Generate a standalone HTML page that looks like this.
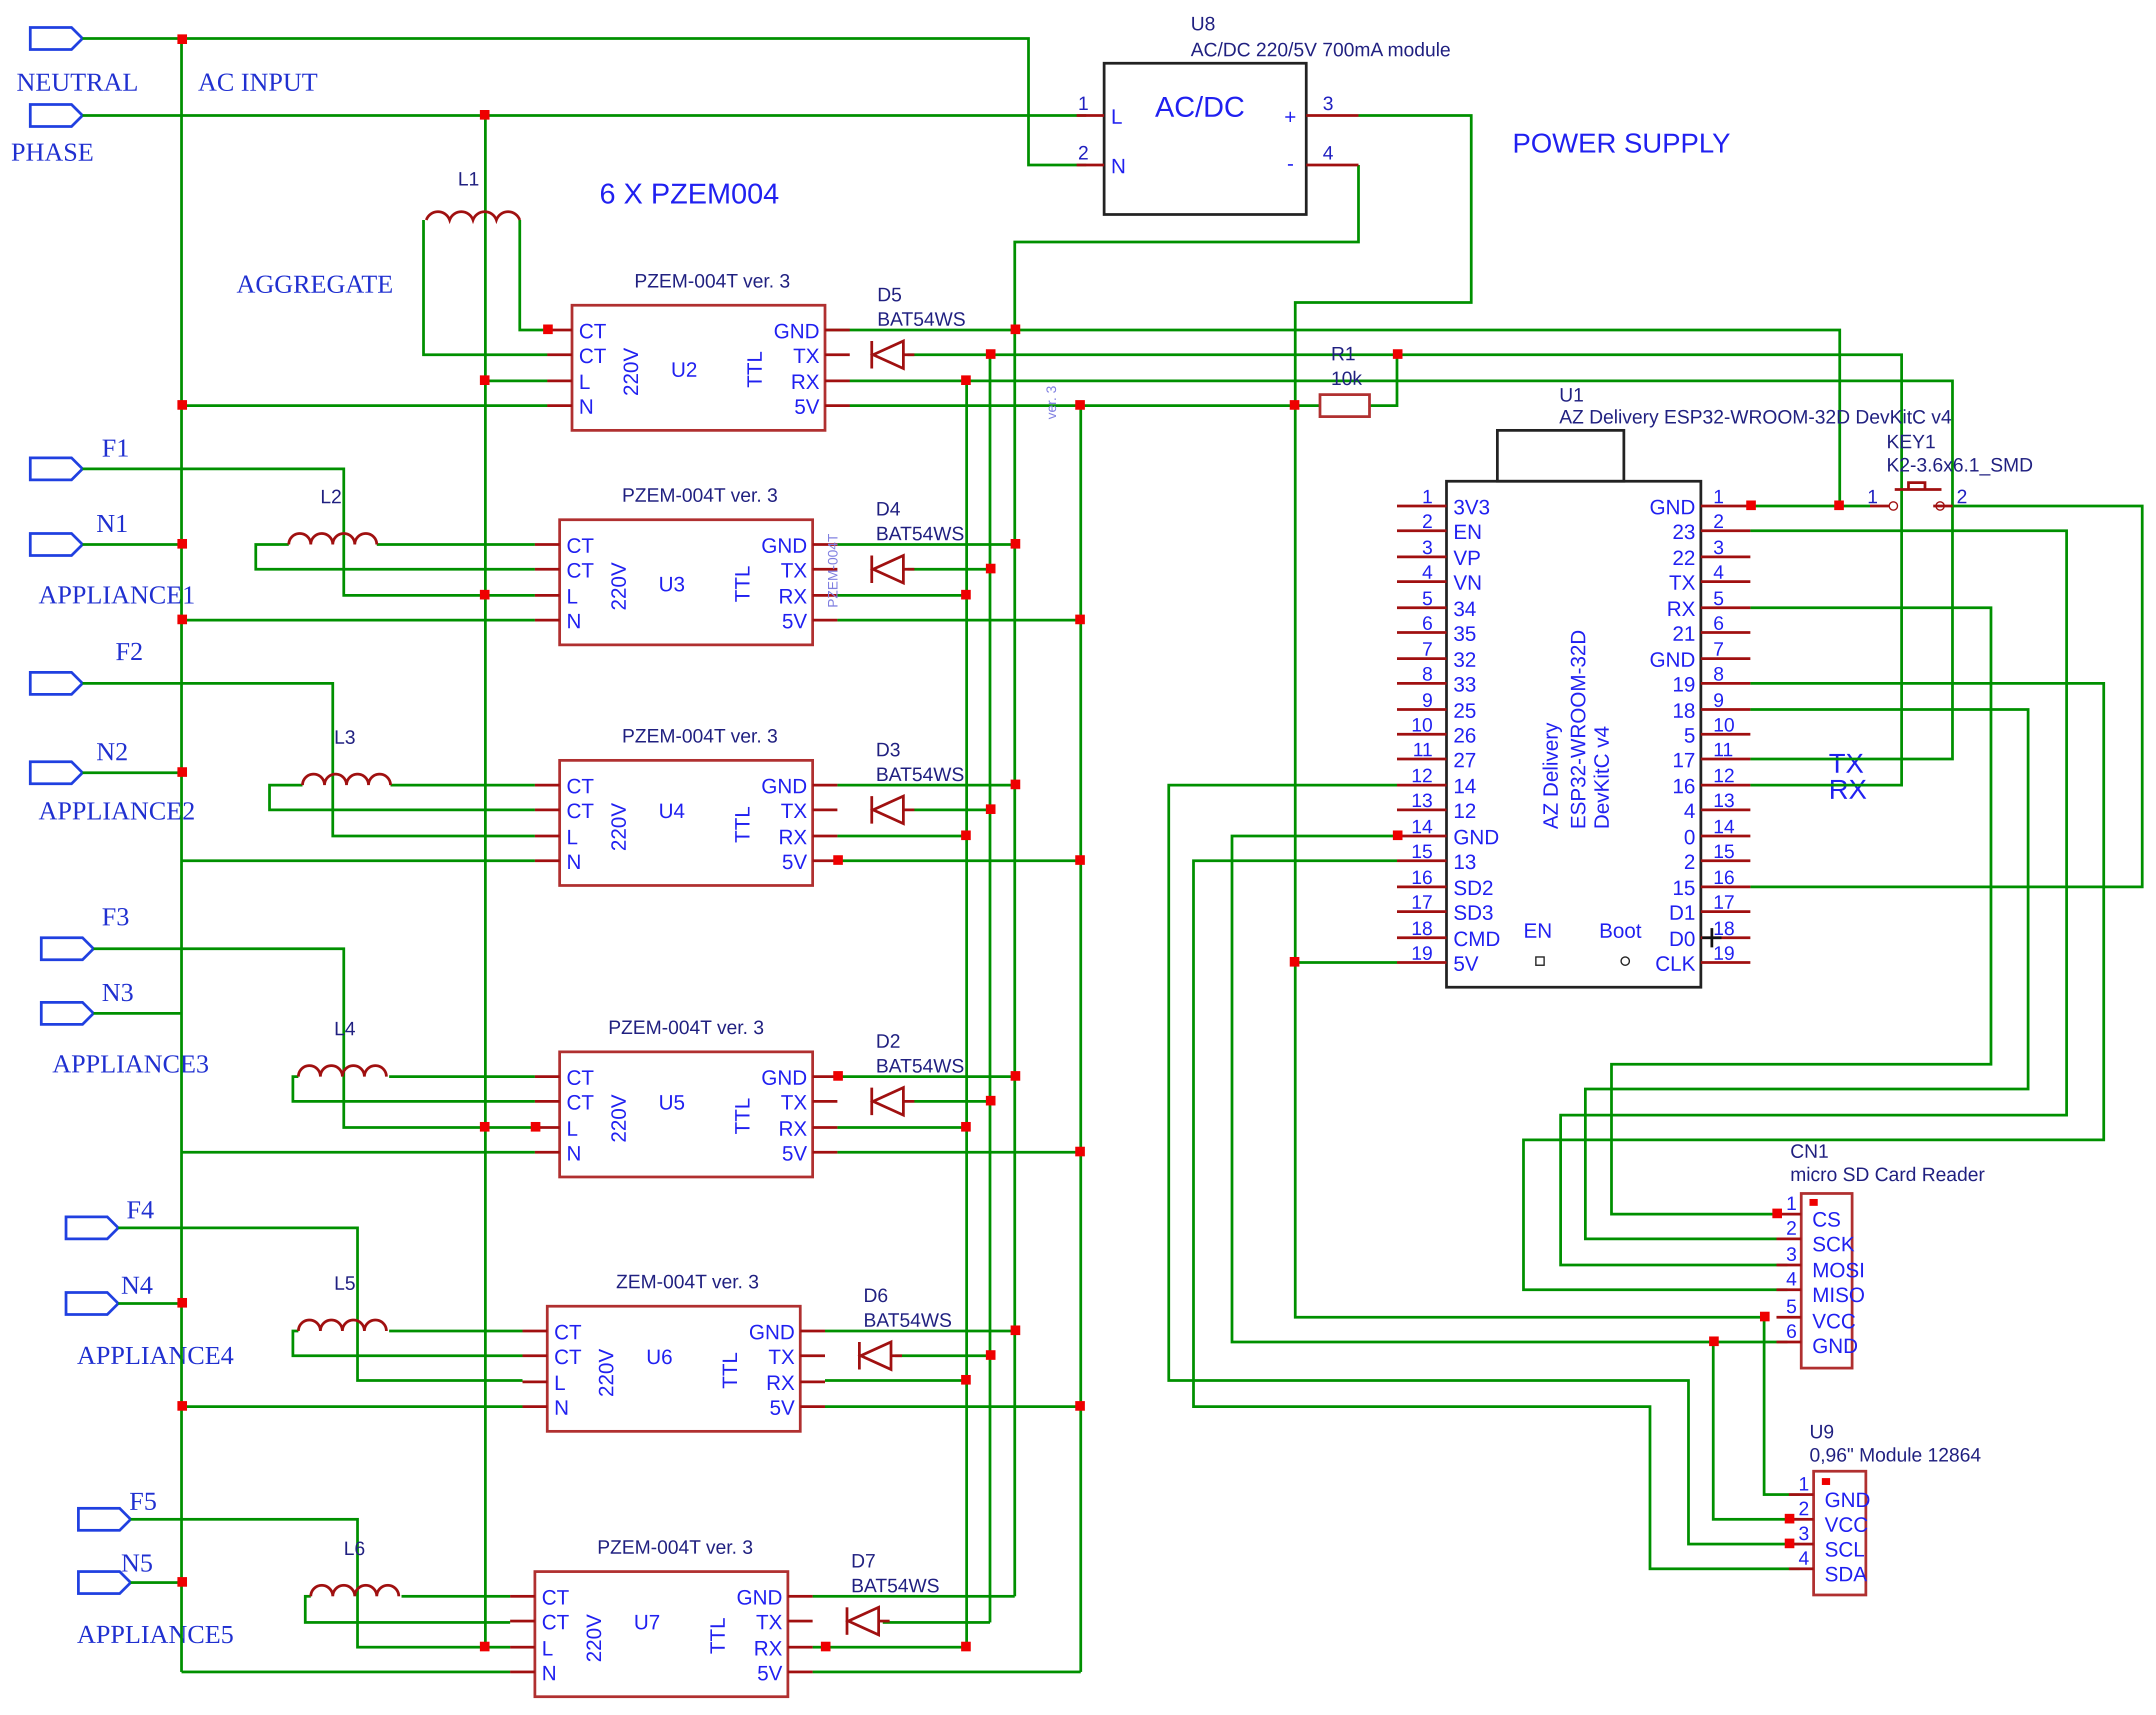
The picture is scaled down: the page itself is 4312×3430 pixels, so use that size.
<!DOCTYPE html>
<html><head><meta charset="utf-8"><style>
html,body{margin:0;padding:0;background:#fff}
svg{display:block}
.w{stroke:#009000;stroke-width:2;fill:none}
.p{stroke:#a01010;stroke-width:2;fill:none}
.b{stroke:#b03030;stroke-width:2;fill:none}
.k{stroke:#222;stroke-width:2;fill:none}
text{font-family:"Liberation Sans",sans-serif;fill:#2020f0}
.t{font-size:15px}
.s{font-size:14px;fill:#202080}
.n{font-size:14px;fill:#2020c0}
.sf{font-family:"Liberation Serif",serif;font-size:19px;fill:#2030d0}
.prt{stroke:#2040e0;stroke-width:2;fill:#fff}
</style></head><body>
<svg width="4312" height="3430" viewBox="0 0 1568 1247.3" xmlns="http://www.w3.org/2000/svg">
<defs>
<g id="j"></g>
</defs>
<!-- ports -->
<g class="prt">
<path d="M22,20h30l8,8l-8,8h-30z"/>
<path d="M22,76h30l8,8l-8,8h-30z"/>
<path d="M22,333h30l8,8l-8,8h-30z"/>
<path d="M22,388h30l8,8l-8,8h-30z"/>
<path d="M22,489h30l8,8l-8,8h-30z"/>
<path d="M22,554h30l8,8l-8,8h-30z"/>
<path d="M30,682h30l8,8l-8,8h-30z"/>
<path d="M30,729h30l8,8l-8,8h-30z"/>
<path d="M48,885h30l8,8l-8,8h-30z"/>
<path d="M48,940h30l8,8l-8,8h-30z"/>
<path d="M57,1097h30l8,8l-8,8h-30z"/>
<path d="M57,1143h30l8,8l-8,8h-30z"/>
</g>
<text class="sf" x="12" y="66">NEUTRAL</text>
<text class="sf" x="144" y="66">AC INPUT</text>
<text class="sf" x="8" y="117">PHASE</text>
<text class="sf" x="172" y="213">AGGREGATE</text>
<text class="sf" x="74" y="332">F1</text>
<text class="sf" x="70" y="387">N1</text>
<text class="sf" x="28" y="439">APPLIANCE1</text>
<text class="sf" x="84" y="480">F2</text>
<text class="sf" x="70" y="553">N2</text>
<text class="sf" x="28" y="596">APPLIANCE2</text>
<text class="sf" x="74" y="673">F3</text>
<text class="sf" x="74" y="728">N3</text>
<text class="sf" x="38" y="780">APPLIANCE3</text>
<text class="sf" x="92" y="886">F4</text>
<text class="sf" x="88" y="941">N4</text>
<text class="sf" x="56" y="992">APPLIANCE4</text>
<text class="sf" x="94" y="1098">F5</text>
<text class="sf" x="88" y="1143">N5</text>
<text class="sf" x="56" y="1195">APPLIANCE5</text>
<text x="436" y="148" style="font-size:21px">6 X PZEM004</text>
<text x="1100" y="111" style="font-size:20px">POWER SUPPLY</text>
<text x="1330" y="562" style="font-size:20px">TX</text>
<text x="1330" y="581" style="font-size:20px">RX</text>

<!-- main wires -->
<g class="w">
<polyline points="60,28 748,28 748,120 790,120"/>
<polyline points="60,84 790,84"/>
<line x1="132" y1="28" x2="132" y2="1216"/>
<line x1="353" y1="84" x2="353" y2="1198"/>
<polyline points="988,84 1070,84 1070,220 942,220 942,958 1283,958"/>
<line x1="942" y1="700" x2="1016" y2="700"/>
<polyline points="988,120 988,176 738,176 738,1161"/>
<line x1="720" y1="258" x2="720" y2="1180"/>
<line x1="703" y1="277" x2="703" y2="1198"/>
<line x1="786" y1="295" x2="786" y2="1216"/>
<polyline points="600,240 1338,240 1338,368"/>
<polyline points="720,258 1383,258 1383,571 1273,571"/>
<polyline points="703,277 1420,277 1420,552 1273,552"/>
<line x1="786" y1="295" x2="960" y2="295"/>
<polyline points="996,295 1016,295 1016,258"/>
<!-- U2 left -->
<polyline points="378,160 378,240 398,240"/>
<polyline points="308,160 308,258 398,258"/>
<line x1="353" y1="277" x2="398" y2="277"/>
<line x1="132" y1="295" x2="398" y2="295"/>
<!-- appliance 1 -->
<line x1="60" y1="396" x2="132" y2="396"/>
<polyline points="60,341 250,341 250,433 389,433"/>
<line x1="274" y1="396" x2="389" y2="396"/>
<polyline points="210,396 186,396 186,414 389,414"/>
<line x1="132" y1="451" x2="389" y2="451"/>
<!-- appliance 2 -->
<line x1="60" y1="562" x2="132" y2="562"/>
<polyline points="60,497 242,497 242,608 389,608"/>
<line x1="284" y1="571" x2="389" y2="571"/>
<polyline points="220,571 196,571 196,589 389,589"/>
<line x1="132" y1="626" x2="389" y2="626"/>
<!-- appliance 3 -->
<line x1="68" y1="737" x2="132" y2="737"/>
<polyline points="68,690 250,690 250,820 389,820"/>
<line x1="283" y1="783" x2="389" y2="783"/>
<polyline points="217,783 213,783 213,801 389,801"/>
<line x1="132" y1="838" x2="389" y2="838"/>
<!-- appliance 4 -->
<line x1="86" y1="948" x2="132" y2="948"/>
<polyline points="86,893 260,893 260,1004 380,1004"/>
<line x1="283" y1="968" x2="380" y2="968"/>
<polyline points="217,968 213,968 213,986 380,986"/>
<line x1="132" y1="1023" x2="380" y2="1023"/>
<!-- appliance 5 -->
<line x1="95" y1="1151" x2="132" y2="1151"/>
<polyline points="95,1105 260,1105 260,1198 371,1198"/>
<line x1="292" y1="1161" x2="371" y2="1161"/>
<polyline points="226,1161 222,1161 222,1180 371,1180"/>
<line x1="132" y1="1216" x2="371" y2="1216"/>
<!-- right side of PZEMs 3..7 -->
<line x1="609" y1="396" x2="738" y2="396"/><line x1="660" y1="414" x2="720" y2="414"/><line x1="609" y1="433" x2="703" y2="433"/><line x1="609" y1="451" x2="786" y2="451"/>
<line x1="609" y1="571" x2="738" y2="571"/><line x1="660" y1="589" x2="720" y2="589"/><line x1="609" y1="608" x2="703" y2="608"/><line x1="609" y1="626" x2="786" y2="626"/>
<line x1="609" y1="783" x2="738" y2="783"/><line x1="660" y1="801" x2="720" y2="801"/><line x1="609" y1="820" x2="703" y2="820"/><line x1="609" y1="838" x2="786" y2="838"/>
<line x1="600" y1="968" x2="738" y2="968"/><line x1="651" y1="986" x2="720" y2="986"/><line x1="600" y1="1004" x2="703" y2="1004"/><line x1="600" y1="1023" x2="786" y2="1023"/>
<line x1="591" y1="1161" x2="738" y2="1161"/><line x1="642" y1="1180" x2="720" y2="1180"/><line x1="591" y1="1198" x2="703" y2="1198"/><line x1="591" y1="1216" x2="786" y2="1216"/>
<line x1="660" y1="258" x2="720" y2="258"/><line x1="618" y1="277" x2="703" y2="277"/><line x1="618" y1="295" x2="786" y2="295"/>
<line x1="132" y1="838" x2="132" y2="838"/>
<!-- ESP right -->
<line x1="1273" y1="368" x2="1360" y2="368"/>
<polyline points="1420,368 1558,368 1558,645 1273,645"/>
<polyline points="1273,386 1503,386 1503,811 1135,811 1135,920 1300,920"/>
<polyline points="1273,442 1448,442 1448,774 1172,774 1172,883 1300,883"/>
<polyline points="1273,497 1530,497 1530,829 1108,829 1108,938 1300,938"/>
<polyline points="1273,516 1475,516 1475,792 1153,792 1153,901 1300,901"/>
<!-- ESP left -->
<polyline points="1016,571 850,571 850,1004 1228,1004 1228,1123 1309,1123"/>
<polyline points="1016,608 896,608 896,976 1300,976"/>
<polyline points="1016,626 868,626 868,1023 1200,1023 1200,1141 1309,1141"/>
<polyline points="1283,958 1283,1087 1309,1087"/>
<polyline points="1246,976 1246,1105 1309,1105"/>
</g>

<!-- U8 -->
<rect class="k" x="803" y="46" width="147" height="110"/>
<line class="p" x1="783" y1="84" x2="803" y2="84"/><line class="p" x1="783" y1="120" x2="803" y2="120"/>
<line class="p" x1="950" y1="84" x2="988" y2="84"/><line class="p" x1="950" y1="120" x2="988" y2="120"/>
<text x="840" y="85" style="font-size:21px">AC/DC</text>
<text class="t" x="808" y="90">L</text><text class="t" x="808" y="126">N</text>
<text class="t" x="934" y="90">+</text><text class="t" x="936" y="124">-</text>
<text class="n" x="784" y="80">1</text><text class="n" x="784" y="116">2</text>
<text class="n" x="962" y="80">3</text><text class="n" x="962" y="116">4</text>
<text class="s" x="866" y="22">U8</text>
<text class="s" x="866" y="41">AC/DC 220/5V 700mA module</text>

<!-- inductors -->
<g class="p">
<path d="M310,160a9,9 0 0 1 17,0a9,9 0 0 1 17,0a9,9 0 0 1 17,0a9,9 0 0 1 17,0"/>
<path d="M210,396a8,8 0 0 1 16,0a8,8 0 0 1 16,0a8,8 0 0 1 16,0a8,8 0 0 1 16,0"/>
<path d="M220,571a8,8 0 0 1 16,0a8,8 0 0 1 16,0a8,8 0 0 1 16,0a8,8 0 0 1 16,0"/>
<path d="M217,783a8,8 0 0 1 16,0a8,8 0 0 1 16,0a8,8 0 0 1 16,0a8,8 0 0 1 16,0"/>
<path d="M217,968a8,8 0 0 1 16,0a8,8 0 0 1 16,0a8,8 0 0 1 16,0a8,8 0 0 1 16,0"/>
<path d="M226,1161a8,8 0 0 1 16,0a8,8 0 0 1 16,0a8,8 0 0 1 16,0a8,8 0 0 1 16,0"/>
</g>
<text class="s" x="333" y="135">L1</text>
<text class="s" x="233" y="366">L2</text>
<text class="s" x="243" y="541">L3</text>
<text class="s" x="243" y="753">L4</text>
<text class="s" x="243" y="938">L5</text>
<text class="s" x="250" y="1131">L6</text>

<!-- PZEM blocks -->
<g transform="translate(416,222)">
<rect class="b" x="0" y="0" width="184" height="91"/>
<g class="p"><line x1="-18" y1="18" x2="0" y2="18"/><line x1="-18" y1="36" x2="0" y2="36"/><line x1="-18" y1="55" x2="0" y2="55"/><line x1="-18" y1="73" x2="0" y2="73"/><line x1="184" y1="18" x2="202" y2="18"/><line x1="184" y1="36" x2="202" y2="36"/><line x1="184" y1="55" x2="202" y2="55"/><line x1="184" y1="73" x2="202" y2="73"/></g>
<text class="t" x="5" y="24">CT</text><text class="t" x="5" y="42">CT</text><text class="t" x="5" y="61">L</text><text class="t" x="5" y="79">N</text>
<text class="t" text-anchor="end" x="180" y="24">GND</text><text class="t" text-anchor="end" x="180" y="42">TX</text><text class="t" text-anchor="end" x="180" y="61">RX</text><text class="t" text-anchor="end" x="180" y="79">5V</text>
<text class="t" transform="translate(48,66) rotate(-90)">220V</text>
<text class="t" x="72" y="52">U2</text>
<text class="t" transform="translate(138,60) rotate(-90)">TTL</text>
<text class="s" text-anchor="middle" x="102" y="-13">PZEM-004T ver. 3</text>
<path class="p" d="M218,26v20M219,36l22,-10v20z M241,36h8"/>
<text class="s" x="222" y="-3">D5</text><text class="s" x="222" y="15">BAT54WS</text>
</g>
<g transform="translate(407,378)">
<rect class="b" x="0" y="0" width="184" height="91"/>
<g class="p"><line x1="-18" y1="18" x2="0" y2="18"/><line x1="-18" y1="36" x2="0" y2="36"/><line x1="-18" y1="55" x2="0" y2="55"/><line x1="-18" y1="73" x2="0" y2="73"/><line x1="184" y1="18" x2="202" y2="18"/><line x1="184" y1="36" x2="202" y2="36"/><line x1="184" y1="55" x2="202" y2="55"/><line x1="184" y1="73" x2="202" y2="73"/></g>
<text class="t" x="5" y="24">CT</text><text class="t" x="5" y="42">CT</text><text class="t" x="5" y="61">L</text><text class="t" x="5" y="79">N</text>
<text class="t" text-anchor="end" x="180" y="24">GND</text><text class="t" text-anchor="end" x="180" y="42">TX</text><text class="t" text-anchor="end" x="180" y="61">RX</text><text class="t" text-anchor="end" x="180" y="79">5V</text>
<text class="t" transform="translate(48,66) rotate(-90)">220V</text>
<text class="t" x="72" y="52">U3</text>
<text class="t" transform="translate(138,60) rotate(-90)">TTL</text>
<text class="s" text-anchor="middle" x="102" y="-13">PZEM-004T ver. 3</text>
<path class="p" d="M227,26v20M228,36l22,-10v20z M250,36h8"/>
<text class="s" x="230" y="-3">D4</text><text class="s" x="230" y="15">BAT54WS</text>
</g>
<g transform="translate(407,553)">
<rect class="b" x="0" y="0" width="184" height="91"/>
<g class="p"><line x1="-18" y1="18" x2="0" y2="18"/><line x1="-18" y1="36" x2="0" y2="36"/><line x1="-18" y1="55" x2="0" y2="55"/><line x1="-18" y1="73" x2="0" y2="73"/><line x1="184" y1="18" x2="202" y2="18"/><line x1="184" y1="36" x2="202" y2="36"/><line x1="184" y1="55" x2="202" y2="55"/><line x1="184" y1="73" x2="202" y2="73"/></g>
<text class="t" x="5" y="24">CT</text><text class="t" x="5" y="42">CT</text><text class="t" x="5" y="61">L</text><text class="t" x="5" y="79">N</text>
<text class="t" text-anchor="end" x="180" y="24">GND</text><text class="t" text-anchor="end" x="180" y="42">TX</text><text class="t" text-anchor="end" x="180" y="61">RX</text><text class="t" text-anchor="end" x="180" y="79">5V</text>
<text class="t" transform="translate(48,66) rotate(-90)">220V</text>
<text class="t" x="72" y="42">U4</text>
<text class="t" transform="translate(138,60) rotate(-90)">TTL</text>
<text class="s" text-anchor="middle" x="102" y="-13">PZEM-004T ver. 3</text>
<path class="p" d="M227,26v20M228,36l22,-10v20z M250,36h8"/>
<text class="s" x="230" y="-3">D3</text><text class="s" x="230" y="15">BAT54WS</text>
</g>
<g transform="translate(407,765)">
<rect class="b" x="0" y="0" width="184" height="91"/>
<g class="p"><line x1="-18" y1="18" x2="0" y2="18"/><line x1="-18" y1="36" x2="0" y2="36"/><line x1="-18" y1="55" x2="0" y2="55"/><line x1="-18" y1="73" x2="0" y2="73"/><line x1="184" y1="18" x2="202" y2="18"/><line x1="184" y1="36" x2="202" y2="36"/><line x1="184" y1="55" x2="202" y2="55"/><line x1="184" y1="73" x2="202" y2="73"/></g>
<text class="t" x="5" y="24">CT</text><text class="t" x="5" y="42">CT</text><text class="t" x="5" y="61">L</text><text class="t" x="5" y="79">N</text>
<text class="t" text-anchor="end" x="180" y="24">GND</text><text class="t" text-anchor="end" x="180" y="42">TX</text><text class="t" text-anchor="end" x="180" y="61">RX</text><text class="t" text-anchor="end" x="180" y="79">5V</text>
<text class="t" transform="translate(48,66) rotate(-90)">220V</text>
<text class="t" x="72" y="42">U5</text>
<text class="t" transform="translate(138,60) rotate(-90)">TTL</text>
<text class="s" text-anchor="middle" x="92" y="-13">PZEM-004T ver. 3</text>
<path class="p" d="M227,26v20M228,36l22,-10v20z M250,36h8"/>
<text class="s" x="230" y="-3">D2</text><text class="s" x="230" y="15">BAT54WS</text>
</g>
<g transform="translate(398,950)">
<rect class="b" x="0" y="0" width="184" height="91"/>
<g class="p"><line x1="-18" y1="18" x2="0" y2="18"/><line x1="-18" y1="36" x2="0" y2="36"/><line x1="-18" y1="55" x2="0" y2="55"/><line x1="-18" y1="73" x2="0" y2="73"/><line x1="184" y1="18" x2="202" y2="18"/><line x1="184" y1="36" x2="202" y2="36"/><line x1="184" y1="55" x2="202" y2="55"/><line x1="184" y1="73" x2="202" y2="73"/></g>
<text class="t" x="5" y="24">CT</text><text class="t" x="5" y="42">CT</text><text class="t" x="5" y="61">L</text><text class="t" x="5" y="79">N</text>
<text class="t" text-anchor="end" x="180" y="24">GND</text><text class="t" text-anchor="end" x="180" y="42">TX</text><text class="t" text-anchor="end" x="180" y="61">RX</text><text class="t" text-anchor="end" x="180" y="79">5V</text>
<text class="t" transform="translate(48,66) rotate(-90)">220V</text>
<text class="t" x="72" y="42">U6</text>
<text class="t" transform="translate(138,60) rotate(-90)">TTL</text>
<text class="s" text-anchor="middle" x="102" y="-13">ZEM-004T ver. 3</text>
<path class="p" d="M227,26v20M228,36l22,-10v20z M250,36h8"/>
<text class="s" x="230" y="-3">D6</text><text class="s" x="230" y="15">BAT54WS</text>
</g>
<g transform="translate(389,1143)">
<rect class="b" x="0" y="0" width="184" height="91"/>
<g class="p"><line x1="-18" y1="18" x2="0" y2="18"/><line x1="-18" y1="36" x2="0" y2="36"/><line x1="-18" y1="55" x2="0" y2="55"/><line x1="-18" y1="73" x2="0" y2="73"/><line x1="184" y1="18" x2="202" y2="18"/><line x1="184" y1="36" x2="202" y2="36"/><line x1="184" y1="55" x2="202" y2="55"/><line x1="184" y1="73" x2="202" y2="73"/></g>
<text class="t" x="5" y="24">CT</text><text class="t" x="5" y="42">CT</text><text class="t" x="5" y="61">L</text><text class="t" x="5" y="79">N</text>
<text class="t" text-anchor="end" x="180" y="24">GND</text><text class="t" text-anchor="end" x="180" y="42">TX</text><text class="t" text-anchor="end" x="180" y="61">RX</text><text class="t" text-anchor="end" x="180" y="79">5V</text>
<text class="t" transform="translate(48,66) rotate(-90)">220V</text>
<text class="t" x="72" y="42">U7</text>
<text class="t" transform="translate(138,60) rotate(-90)">TTL</text>
<text class="s" text-anchor="middle" x="102" y="-13">PZEM-004T ver. 3</text>
<path class="p" d="M227,26v20M228,36l22,-10v20z M250,36h8"/>
<text class="s" x="230" y="-3">D7</text><text class="s" x="230" y="15">BAT54WS</text>
</g>
<text transform="translate(768,305) rotate(-90)" style="font-size:10px;fill:#8080e0">ver. 3</text>
<text transform="translate(609,442) rotate(-90)" style="font-size:10px;fill:#8080e0">PZEM-004T</text>

<!-- R1 -->
<rect class="b" x="960" y="287" width="36" height="16"/>
<text class="s" x="968" y="262">R1</text><text class="s" x="968" y="280">10k</text>

<!-- ESP32 -->
<rect class="k" x="1052" y="350" width="185" height="368"/>
<rect class="k" x="1089" y="313" width="92" height="37"/>
<text class="s" x="1134" y="292">U1</text>
<text class="s" x="1134" y="308">AZ Delivery ESP32-WROOM-32D DevKitC v4</text>
<text class="s" x="1372" y="326">KEY1</text>
<text class="s" x="1372" y="343">K2-3.6x6.1_SMD</text>
<path class="p" d="M1360,368h14M1406,368h14M1378,356h34M1388,356v-5h12v5"/>
<circle cx="1377" cy="368" r="3" fill="none" stroke="#a01010"/><circle cx="1411" cy="368" r="3" fill="none" stroke="#a01010"/>
<text class="n" x="1358" y="366">1</text><text class="n" x="1423" y="366">2</text>
<g class="p">
<path d="M1016,368h36M1016,386h36M1016,405h36M1016,423h36M1016,442h36M1016,460h36M1016,479h36M1016,497h36M1016,516h36M1016,534h36M1016,552h36M1016,571h36M1016,589h36M1016,608h36M1016,626h36M1016,645h36M1016,663h36M1016,682h36M1016,700h36"/>
<path d="M1237,368h36M1237,386h36M1237,405h36M1237,423h36M1237,442h36M1237,460h36M1237,479h36M1237,497h36M1237,516h36M1237,534h36M1237,552h36M1237,571h36M1237,589h36M1237,608h36M1237,626h36M1237,645h36M1237,663h36M1237,682h36M1237,700h36"/>
</g>
<g class="n" text-anchor="end">
<text x="1042" y="366">1</text><text x="1042" y="384">2</text><text x="1042" y="403">3</text><text x="1042" y="421">4</text><text x="1042" y="440">5</text><text x="1042" y="458">6</text><text x="1042" y="477">7</text><text x="1042" y="495">8</text><text x="1042" y="514">9</text><text x="1042" y="532">10</text><text x="1042" y="550">11</text><text x="1042" y="569">12</text><text x="1042" y="587">13</text><text x="1042" y="606">14</text><text x="1042" y="624">15</text><text x="1042" y="643">16</text><text x="1042" y="661">17</text><text x="1042" y="680">18</text><text x="1042" y="698">19</text>
</g>
<g class="n">
<text x="1246" y="366">1</text><text x="1246" y="384">2</text><text x="1246" y="403">3</text><text x="1246" y="421">4</text><text x="1246" y="440">5</text><text x="1246" y="458">6</text><text x="1246" y="477">7</text><text x="1246" y="495">8</text><text x="1246" y="514">9</text><text x="1246" y="532">10</text><text x="1246" y="550">11</text><text x="1246" y="569">12</text><text x="1246" y="587">13</text><text x="1246" y="606">14</text><text x="1246" y="624">15</text><text x="1246" y="643">16</text><text x="1246" y="661">17</text><text x="1246" y="680">18</text><text x="1246" y="698">19</text>
</g>
<g class="t">
<text x="1057" y="374">3V3</text><text x="1057" y="392">EN</text><text x="1057" y="411">VP</text><text x="1057" y="429">VN</text><text x="1057" y="448">34</text><text x="1057" y="466">35</text><text x="1057" y="485">32</text><text x="1057" y="503">33</text><text x="1057" y="522">25</text><text x="1057" y="540">26</text><text x="1057" y="558">27</text><text x="1057" y="577">14</text><text x="1057" y="595">12</text><text x="1057" y="614">GND</text><text x="1057" y="632">13</text><text x="1057" y="651">SD2</text><text x="1057" y="669">SD3</text><text x="1057" y="688">CMD</text><text x="1057" y="706">5V</text>
</g>
<g class="t" text-anchor="end">
<text x="1233" y="374">GND</text><text x="1233" y="392">23</text><text x="1233" y="411">22</text><text x="1233" y="429">TX</text><text x="1233" y="448">RX</text><text x="1233" y="466">21</text><text x="1233" y="485">GND</text><text x="1233" y="503">19</text><text x="1233" y="522">18</text><text x="1233" y="540">5</text><text x="1233" y="558">17</text><text x="1233" y="577">16</text><text x="1233" y="595">4</text><text x="1233" y="614">0</text><text x="1233" y="632">2</text><text x="1233" y="651">15</text><text x="1233" y="669">D1</text><text x="1233" y="688">D0</text><text x="1233" y="706">CLK</text>
</g>
<text class="t" transform="translate(1133,603) rotate(-90)">AZ Delivery</text>
<text class="t" transform="translate(1153,603) rotate(-90)">ESP32-WROOM-32D</text>
<text class="t" transform="translate(1170,603) rotate(-90)">DevKitC v4</text>
<text class="t" x="1108" y="682">EN</text><text class="t" x="1163" y="682">Boot</text>
<rect x="1117" y="696" width="6" height="6" fill="none" stroke="#222"/>
<circle cx="1182" cy="699" r="3" fill="none" stroke="#222"/>
<path d="M1238,682h14M1245,675v14" stroke="#111" stroke-width="2"/>

<!-- CN1 -->
<rect class="b" x="1310" y="868" width="37" height="127"/>
<rect x="1316" y="872" width="6" height="5" fill="#e00"/>
<g class="p"><path d="M1292,883h18M1292,901h18M1292,920h18M1292,938h18M1292,958h18M1292,976h18"/></g>
<text class="s" x="1302" y="842">CN1</text><text class="s" x="1302" y="859">micro SD Card Reader</text>
<g class="t"><text x="1318" y="892">CS</text><text x="1318" y="910">SCK</text><text x="1318" y="929">MOSI</text><text x="1318" y="947">MISO</text><text x="1318" y="966">VCC</text><text x="1318" y="984">GND</text></g>
<g class="n"><text x="1299" y="880">1</text><text x="1299" y="898">2</text><text x="1299" y="917">3</text><text x="1299" y="935">4</text><text x="1299" y="955">5</text><text x="1299" y="973">6</text></g>

<!-- U9 -->
<rect class="b" x="1319" y="1070" width="38" height="90"/>
<rect x="1325" y="1075" width="6" height="5" fill="#e00"/>
<g class="p"><path d="M1301,1087h18M1301,1105h18M1301,1123h18M1301,1141h18"/></g>
<text class="s" x="1316" y="1046">U9</text><text class="s" x="1316" y="1063">0,96" Module 12864</text>
<g class="t"><text x="1327" y="1096">GND</text><text x="1327" y="1114">VCC</text><text x="1327" y="1132">SCL</text><text x="1327" y="1150">SDA</text></g>
<g class="n"><text x="1308" y="1084">1</text><text x="1308" y="1102">2</text><text x="1308" y="1120">3</text><text x="1308" y="1138">4</text></g>

<!-- junctions -->
<g fill="#ee0000">
<rect x="129" y="25" width="7" height="7"/><rect x="349" y="80" width="7" height="7"/>
<rect x="395" y="236" width="7" height="7"/><rect x="349" y="273" width="7" height="7"/><rect x="129" y="291" width="7" height="7"/>
<rect x="735" y="236" width="7" height="7"/><rect x="717" y="254" width="7" height="7"/><rect x="699" y="273" width="7" height="7"/><rect x="782" y="291" width="7" height="7"/>
<rect x="938" y="291" width="7" height="7"/><rect x="1013" y="254" width="7" height="7"/>
<rect x="129" y="392" width="7" height="7"/><rect x="349" y="429" width="7" height="7"/><rect x="129" y="447" width="7" height="7"/>
<rect x="735" y="392" width="7" height="7"/><rect x="717" y="410" width="7" height="7"/><rect x="699" y="429" width="7" height="7"/><rect x="782" y="447" width="7" height="7"/>
<rect x="129" y="558" width="7" height="7"/>
<rect x="735" y="567" width="7" height="7"/><rect x="717" y="585" width="7" height="7"/><rect x="699" y="604" width="7" height="7"/><rect x="782" y="622" width="7" height="7"/><rect x="606" y="622" width="7" height="7"/>
<rect x="349" y="816" width="7" height="7"/><rect x="386" y="816" width="7" height="7"/><rect x="606" y="779" width="7" height="7"/>
<rect x="735" y="779" width="7" height="7"/><rect x="717" y="797" width="7" height="7"/><rect x="699" y="816" width="7" height="7"/><rect x="782" y="834" width="7" height="7"/>
<rect x="129" y="944" width="7" height="7"/><rect x="129" y="1019" width="7" height="7"/>
<rect x="735" y="964" width="7" height="7"/><rect x="717" y="982" width="7" height="7"/><rect x="699" y="1000" width="7" height="7"/><rect x="782" y="1019" width="7" height="7"/>
<rect x="129" y="1147" width="7" height="7"/><rect x="349" y="1194" width="7" height="7"/><rect x="597" y="1194" width="7" height="7"/><rect x="699" y="1194" width="7" height="7"/>
<rect x="1270" y="364" width="7" height="7"/><rect x="1334" y="364" width="7" height="7"/>
<rect x="938" y="696" width="7" height="7"/><rect x="1013" y="604" width="7" height="7"/>
<rect x="1289" y="879" width="7" height="7"/><rect x="1280" y="954" width="7" height="7"/><rect x="1243" y="972" width="7" height="7"/>
<rect x="1298" y="1101" width="7" height="7"/><rect x="1298" y="1119" width="7" height="7"/>
</g>
</svg>
</body></html>
